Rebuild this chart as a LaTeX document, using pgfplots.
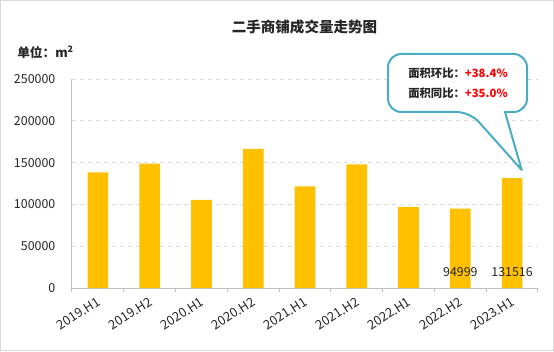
\documentclass[border=0pt]{standalone}
\usepackage{pgfplots}
\pgfplotsset{compat=1.18}
\usepackage{fontspec}
\setmainfont{Noto Sans CJK SC}
\definecolor{barc}{HTML}{FFC000}
\definecolor{gridc}{HTML}{D9D9D9}
\definecolor{axisc}{HTML}{BFBFBF}
\definecolor{callc}{HTML}{4BACC6}
\definecolor{txtc}{HTML}{262626}
\begin{document}
\begin{tikzpicture}[x=0.75pt,y=0.75pt]
\useasboundingbox (0,0) rectangle (554,351);
\draw[gridc, line width=0.75pt] (0.5,0.5) rectangle (553.5,350.5);
\begin{axis}[
  at={(54pt,47.25pt)}, anchor=south west,
  scale only axis, width=349.5pt, height=156.75pt,
  xmin=-0.5, xmax=8.5, ymin=0, ymax=250000,
  axis x line*=bottom, axis y line*=left,
  axis line style={axisc, line width=0.75pt},
  xtick={0,...,8},
  xticklabels={2019.H1,2019.H2,2020.H1,2020.H2,2021.H1,2021.H2,2022.H1,2022.H2,2023.H1},
  minor xtick={-0.5,0.5,...,8.5},
  tick align=outside,
  major tick length=0pt,
  minor tick length=3pt,
  minor tick style={axisc, line width=0.75pt},
  ytick={0,50000,...,250000},
  ymajorgrids,
  grid style={gridc, dash pattern=on 3pt off 3pt, line width=0.75pt},
  scaled y ticks=false,
  /pgf/number format/assume math mode=true,
  yticklabel={\pgfmathprintnumber[fixed,1000 sep={}]{\tick}},
  ticklabel style={font=\fontsize{9.3}{10}\selectfont, text=txtc},
  yticklabel style={xshift=-9pt},
  xticklabel style={rotate=33, anchor=north east, xshift=-1pt, yshift=-1pt, font=\fontsize{9.6}{10}\selectfont},
  clip=false,
]
\addplot[ybar, bar width=15.5pt, fill=barc, draw=none] coordinates {
  (0,138400) (1,148700) (2,105300) (3,166300) (4,121600)
  (5,148000) (6,96900) (7,94999) (8,131516)
};
\node[font=\fontsize{9.3}{10}\selectfont, text=txtc] at (axis cs:7,19500) {94999};
\node[font=\fontsize{9.3}{10}\selectfont, text=txtc] at (axis cs:8,19500) {131516};
\end{axis}
\node[font=\fontsize{10.9}{12}\selectfont\bfseries, text=txtc] at (304.5,324.3) {二手商铺成交量走势图};
\node[font=\fontsize{9.5}{11}\selectfont\bfseries, text=txtc, anchor=west, inner sep=0pt] at (17,299) {单位：m\textsuperscript{2}};
\draw[callc, line width=1.5pt, fill=white, line join=round]
  (470,239) -- (521.7,181) -- (505,239) [rounded corners=10] -- (527,239) -- (527,297) -- (388,297) -- (388,239) -- cycle;
\node[font=\fontsize{8.5}{10}\selectfont\bfseries, anchor=west, inner sep=0pt] at (408,278) {\textcolor{txtc}{面积环比：}\textcolor{red}{+38.4\%}};
\node[font=\fontsize{8.5}{10}\selectfont\bfseries, anchor=west, inner sep=0pt] at (408,258) {\textcolor{txtc}{面积同比：}\textcolor{red}{+35.0\%}};
\end{tikzpicture}
\end{document}
